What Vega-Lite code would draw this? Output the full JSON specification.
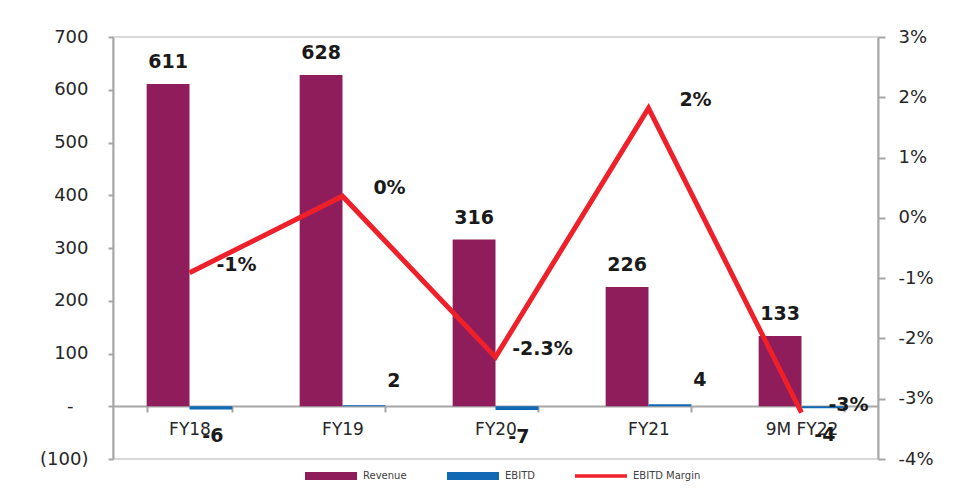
{
  "$schema": "https://vega.github.io/schema/vega-lite/v6.json",
  "width": 765,
  "height": 422,
  "autosize": {"type": "none"},
  "padding": {"left": 113, "top": 37, "right": 88, "bottom": 45},
  "background": "white",
  "config": {
    "font": "DejaVu Sans",
    "view": {"stroke": "#d9d9d9", "strokeWidth": 2},
    "axis": {"labelColor": "#262626", "labelFontSize": 18, "domainColor": "#a6a6a6", "tickColor": "#a6a6a6", "domainWidth": 2, "tickWidth": 2, "grid": false}
  },
  "datasets": {
    "bars": [
      {"cat": "FY18", "series": "Revenue", "value": 611},
      {"cat": "FY18", "series": "EBITD", "value": -6},
      {"cat": "FY19", "series": "Revenue", "value": 628},
      {"cat": "FY19", "series": "EBITD", "value": 2},
      {"cat": "FY20", "series": "Revenue", "value": 316},
      {"cat": "FY20", "series": "EBITD", "value": -7},
      {"cat": "FY21", "series": "Revenue", "value": 226},
      {"cat": "FY21", "series": "EBITD", "value": 4},
      {"cat": "9M FY22", "series": "Revenue", "value": 133},
      {"cat": "9M FY22", "series": "EBITD", "value": -4}
    ],
    "margin": [
      {"cat": "FY18", "series": "EBITD Margin", "margin": -0.0091, "label": "-1%"},
      {"cat": "FY19", "series": "EBITD Margin", "margin": 0.0036, "label": "0%"},
      {"cat": "FY20", "series": "EBITD Margin", "margin": -0.0231, "label": "-2.3%"},
      {"cat": "FY21", "series": "EBITD Margin", "margin": 0.0182, "label": "2%"},
      {"cat": "9M FY22", "series": "EBITD Margin", "margin": -0.0323, "label": "-3%"}
    ]
  },
  "encoding": {
    "x": {
      "field": "cat", "type": "nominal",
      "sort": ["FY18", "FY19", "FY20", "FY21", "9M FY22"],
      "scale": {"paddingInner": 0.44, "paddingOuter": 0.22},
      "axis": {"title": null, "orient": "bottom", "offset": -53, "labelAngle": 0, "tickBand": "extent", "tickSize": 6, "labelPadding": 9, "labelFontSize": 17}
    }
  },
  "layer": [
    {
      "data": {"name": "bars"},
      "encoding": {
        "xOffset": {"field": "series", "type": "nominal", "scale": {"domain": ["Revenue", "EBITD"], "paddingInner": 0, "paddingOuter": 0}},
        "y": {
          "field": "value", "type": "quantitative",
          "scale": {"domain": [-100, 700], "nice": false, "zero": false},
          "axis": {"title": null, "orient": "left", "values": [-100, 0, 100, 200, 300, 400, 500, 600, 700], "tickSize": 5,
            "labelPadding": {"condition": {"test": "datum.value == 0", "value": 35}, "value": 20},
            "labelExpr": "datum.value == 0 ? '-' : (datum.value < 0 ? '(' + format(-datum.value, 'd') + ')' : format(datum.value, 'd'))"}
        }
      },
      "layer": [
        {
          "mark": {"type": "bar"},
          "encoding": {
            "color": {
              "field": "series", "type": "nominal",
              "scale": {"domain": ["Revenue", "EBITD", "EBITD Margin"], "range": ["#8F1D5C", "#1169B5", "#EE2029"]},
              "legend": {
                "orient": "none", "legendX": 192, "legendY": 413, "direction": "horizontal", "title": null,
                "symbolType": "M-1,-0.15H1V0.15H-1Z", "symbolSize": 2704, "symbolStrokeWidth": 0,
                "labelFontSize": 10, "labelColor": "#404040", "labelOffset": 6, "columnPadding": 40,
                "encode": {"symbols": {"update": {
                  "fill": {"scale": "color", "field": "value"},
                  "fillOpacity": {"value": 1},
                  "strokeWidth": {"value": 0},
                  "shape": {"signal": "datum.value === 'EBITD Margin' ? 'M-1,-0.07H1V0.07H-1Z' : 'M-1,-0.15H1V0.15H-1Z'"}
                }}}
              }
            }
          }
        },
        {
          "transform": [{"filter": "datum.series === 'Revenue'"}],
          "mark": {"type": "text", "fontWeight": "bold", "fontSize": 19, "baseline": "bottom", "dy": -12, "color": "#1a1a1a"},
          "encoding": {
            "text": {"field": "value", "type": "nominal"}
          }
        },
        {
          "transform": [{"filter": "datum.series === 'EBITD' && datum.value > 0"}],
          "mark": {"type": "text", "fontWeight": "bold", "fontSize": 19, "baseline": "middle", "dx": 30, "dy": -24, "color": "#1a1a1a"},
          "encoding": {
            "text": {"field": "value", "type": "nominal"}
          }
        },
        {
          "transform": [{"filter": "datum.series === 'EBITD' && datum.value < 0"}],
          "mark": {"type": "text", "fontWeight": "bold", "fontSize": 19, "baseline": "middle", "dx": 2, "dy": 27, "color": "#1a1a1a"},
          "encoding": {
            "text": {"field": "value", "type": "nominal"}
          }
        }
      ]
    },
    {
      "data": {"name": "margin"},
      "encoding": {
        "y": {
          "field": "margin", "type": "quantitative",
          "scale": {"domain": [-0.04, 0.03], "nice": false, "zero": false},
          "axis": {"title": null, "orient": "right", "values": [-0.04, -0.03, -0.02, -0.01, 0, 0.01, 0.02, 0.03], "format": ".0%", "tickSize": 7, "labelPadding": 13,
            "labelExpr": "replace(datum.label, '\u2212', '-')"}
        }
      },
      "layer": [
        {
          "mark": {"type": "line", "strokeWidth": 5},
          "encoding": {
            "color": {"field": "series", "type": "nominal"}
          }
        },
        {
          "mark": {"type": "text", "fontWeight": "bold", "fontSize": 19, "baseline": "middle", "dx": 47, "dy": -8, "color": "#1a1a1a"},
          "encoding": {
            "text": {"field": "label", "type": "nominal"}
          }
        }
      ]
    }
  ],
  "resolve": {"scale": {"y": "independent"}}
}
